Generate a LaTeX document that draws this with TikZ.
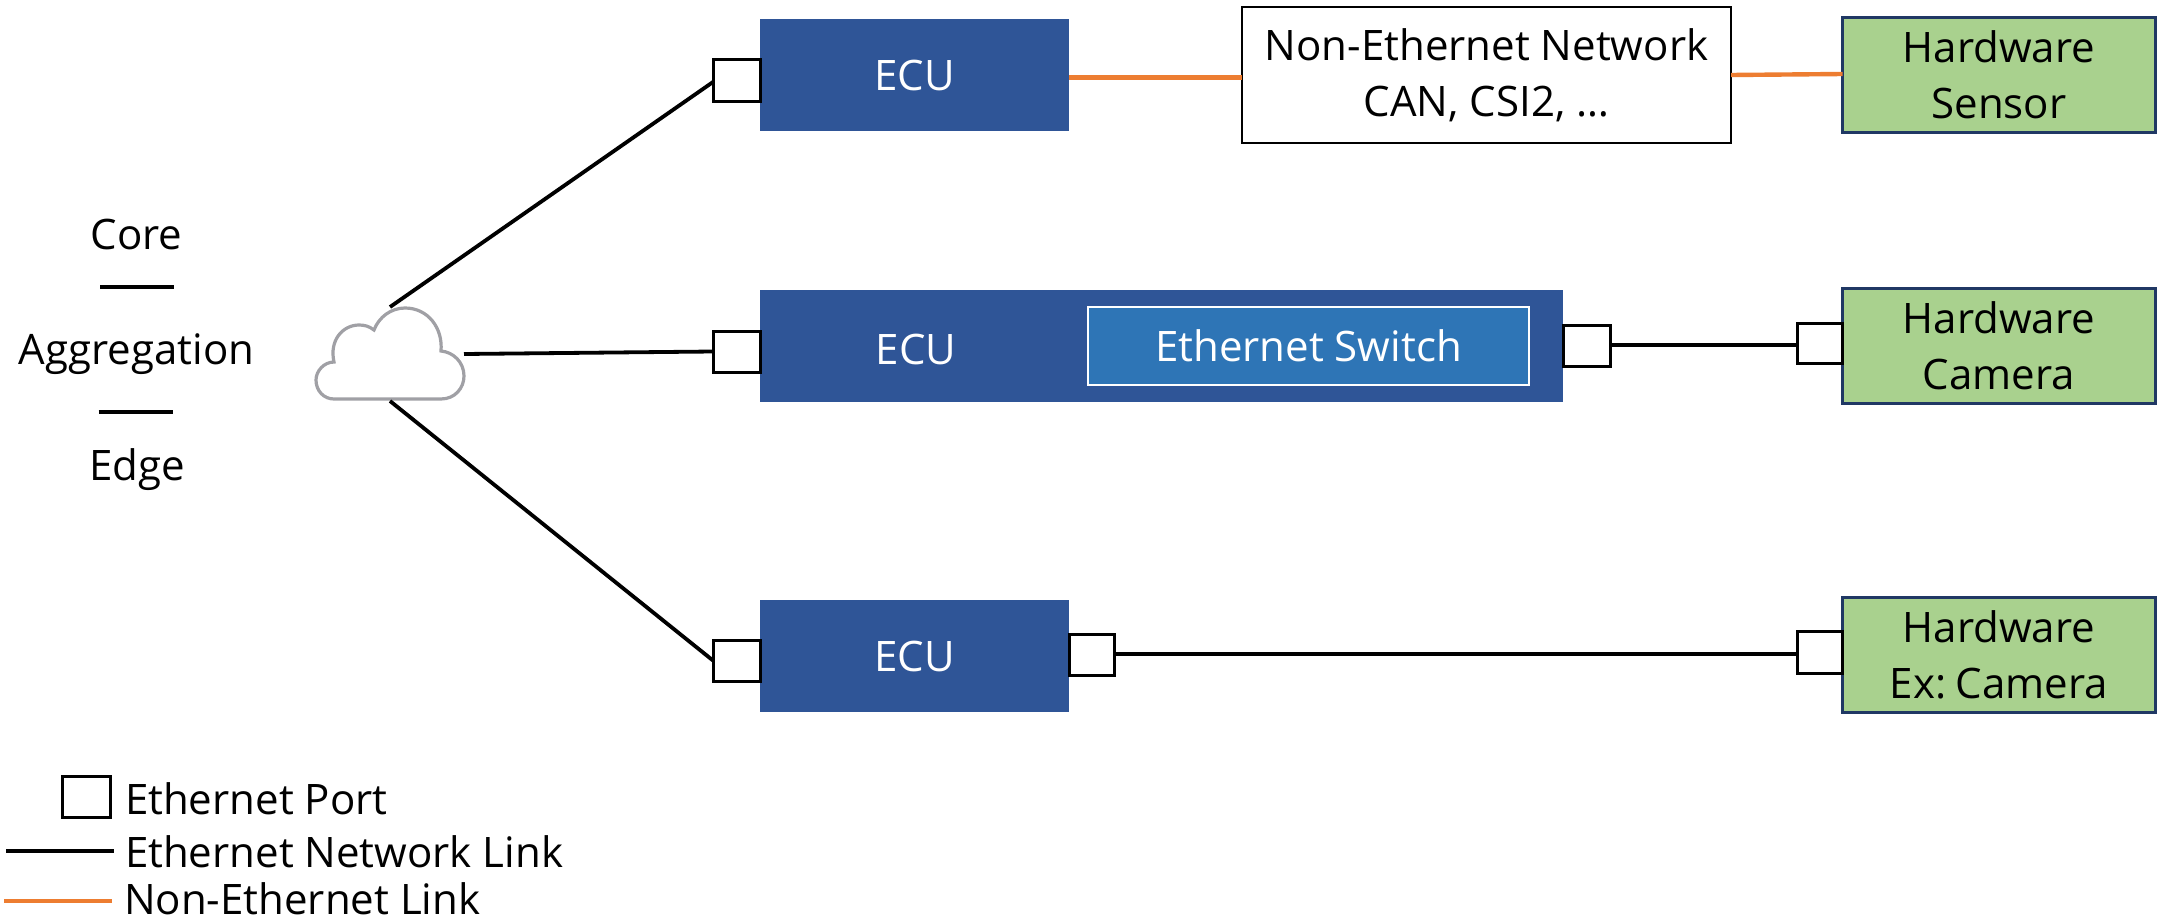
\documentclass[tikz,border=0pt]{standalone}
\usepackage{fontspec}
\setmainfont{Open Sans}
\definecolor{ecublue}{HTML}{2F5597}
\definecolor{swblue}{HTML}{2E75B6}
\definecolor{hwgreen}{HTML}{A9D18E}
\definecolor{hwedge}{HTML}{203864}
\definecolor{linkorange}{HTML}{ED7D31}
\definecolor{cloudgray}{HTML}{A0A0A5}
\tikzset{
  boxbase/.style={anchor=north west,inner sep=0pt,outer sep=0pt,align=center,font=\fontsize{42}{56}\selectfont},
  ecubox/.style={boxbase,fill=ecublue,text=white},
  swbox/.style={boxbase,fill=swblue,draw=white,line width=2pt,text=white},
  netbox/.style={boxbase,fill=white,draw=black,line width=2.5pt},
  hwbox/.style={boxbase,fill=hwgreen,draw=hwedge,line width=3pt},
  portbox/.style={anchor=north west,inner sep=0pt,outer sep=0pt,fill=white,draw=black,line width=3pt},
  ethlink/.style={draw=black,line width=3.8pt},
  nonlink/.style={draw=linkorange,line width=4.4pt},
  plain/.style={inner sep=0pt,outer sep=0pt,font=\fontsize{42}{50}\selectfont},
  legend/.style={plain,anchor=base west},
  tier/.style={plain,anchor=base},
}
\begin{document}
\begin{tikzpicture}[x=1pt,y=-1pt]
\useasboundingbox (0,0) rectangle (2162,918);
% boxes
\node[ecubox,minimum width=309pt,minimum height=112pt] (ecuA) at (760,19) {ECU};
\node[ecubox,minimum width=803pt,minimum height=112pt] (ecuB) at (760,290) {};
\node[plain,text=white] (ecuBt) at (916,349) {ECU};
\node[swbox,minimum width=441pt,minimum height=78pt] (sw) at (1088,307) {Ethernet Switch};
\node[ecubox,minimum width=309pt,minimum height=112pt] (ecuC) at (760,600) {ECU};
\node[netbox,minimum width=489pt,minimum height=136pt] (net) at (1242,7) {Non-Ethernet Network\\CAN, CSI2, …};
\node[hwbox,minimum width=313pt,minimum height=115pt] (hwA) at (1842.5,17) {Hardware\\Sensor};
\node[hwbox,minimum width=313pt,minimum height=115pt] (hwB) at (1842.5,288) {Hardware\\Camera};
\node[hwbox,minimum width=313pt,minimum height=115pt] (hwC) at (1842.5,597) {Hardware\\Ex:\hspace{-0.12em} Camera};
% ports
\node[portbox,minimum width=47pt,minimum height=42pt] (pA) at (713,59) {};
\node[portbox,minimum width=47pt,minimum height=41pt] (pB) at (713,331) {};
\node[portbox,minimum width=47pt,minimum height=41pt] (pC) at (713,640) {};
\node[portbox,minimum width=47pt,minimum height=41pt] (pBr) at (1563,325) {};
\node[portbox,minimum width=45pt,minimum height=40pt] (pBh) at (1797,323) {};
\node[portbox,minimum width=45pt,minimum height=41pt] (pCr) at (1069,634) {};
\node[portbox,minimum width=45pt,minimum height=42pt] (pCh) at (1797,631) {};
% cloud
\draw[cloudgray,line width=3.2pt,fill=white,line join=miter]
  (334,399) -- (441,399)
  .. controls (455,399) and (464,388) .. (464,376)
  .. controls (464,362) and (453,352) .. (441,351)
  .. controls (443,328) and (428,308) .. (405,308)
  .. controls (391,308) and (379,317) .. (374,330)
  .. controls (369,326) and (364,325) .. (359,325)
  .. controls (343,325) and (329,340) .. (334,362)
  .. controls (324,362) and (316,371) .. (316,380)
  .. controls (316,391) and (324,399) .. (334,399) -- cycle;
\coordinate (cloudN) at (390,307);
\coordinate (cloudE) at (464,354);
\coordinate (cloudS) at (390,401);
% links
\draw[ethlink] (cloudN) -- ([yshift=-2pt]pA.west);
\draw[ethlink] (cloudE) -- (pB.west);
\draw[ethlink] (cloudS) -- (pC.west);
\draw[ethlink] (pBr.east |- 0,345) -- (pBh.west |- 0,345);
\draw[ethlink] (pCr.east |- 0,654) -- (pCh.west |- 0,654);
\draw[nonlink] (ecuA.east |- 0,77.5) -- (net.west |- 0,77.5);
\draw[nonlink] (net.east |- 0,75) -- (hwA.west |- 0,74);
% left tiers
\node[tier] (core) at (136.5,249) {Core};
\node[tier] (aggr) at (136.5,364) {Aggregation};
\node[tier] (edge) at (137,480) {Edge};
\coordinate (d1a) at (100,287); \coordinate (d1b) at (174,287);
\coordinate (d2a) at (98.5,412); \coordinate (d2b) at (172.5,412);
\draw[ethlink] (d1a) -- (d1b);
\draw[ethlink] (d2a) -- (d2b);
% legend
\node[portbox,minimum width=48pt,minimum height=41pt] (lgP) at (62,776) {};
\node[legend] (lgPt) at (125,814) {Ethernet Port};
\coordinate (lgEa) at (6,851); \coordinate (lgEb) at (114,851);
\draw[ethlink] (lgEa) -- (lgEb);
\node[legend] (lgEt) at (125,867) {Ethernet Network Link};
\coordinate (lgNa) at (4,901); \coordinate (lgNb) at (112,901);
\draw[nonlink] (lgNa) -- (lgNb);
\node[legend] (lgNt) at (124,914) {Non-Ethernet Link};
\end{tikzpicture}
\end{document}
